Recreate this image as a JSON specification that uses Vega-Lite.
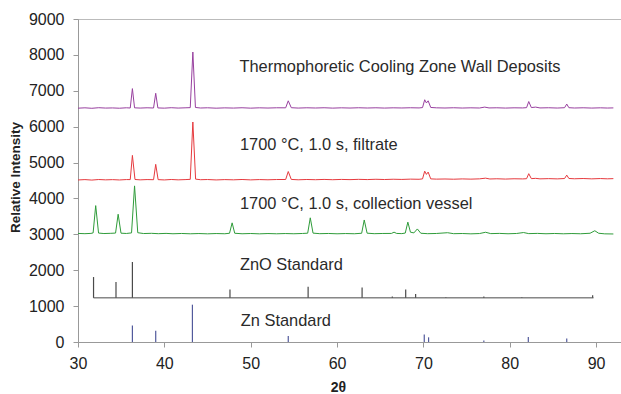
{
  "$schema": "https://vega.github.io/schema/vega-lite/v6.json",
  "width": 544,
  "height": 323,
  "autosize": "none",
  "padding": {"left": 78, "top": 19, "right": 0, "bottom": 52},
  "background": "white",
  "config": {
    "view": {"stroke": "#bbbbbb", "strokeWidth": 1},
    "font": "Liberation Sans",
    "axis": {
      "grid": false,
      "domainColor": "#999999",
      "tickColor": "#999999",
      "tickSize": 5,
      "labelFont": "Liberation Sans",
      "labelFontSize": 16,
      "labelColor": "#222222",
      "labelFlush": false,
      "labelOverlap": false,
      "titleFont": "Liberation Sans",
      "titleFontSize": 14,
      "titleFontWeight": "bold",
      "titleColor": "#222222"
    }
  },
  "datasets": {
    "patterns": [
      {"s":"wall","x":30,"y":6515},{"s":"wall","x":30.8,"y":6525},{"s":"wall","x":31.6,"y":6512},{"s":"wall","x":32.4,"y":6528},{"s":"wall","x":33.2,"y":6518},{"s":"wall","x":34.0,"y":6522},{"s":"wall","x":34.8,"y":6514},{"s":"wall","x":35.6,"y":6526},{"s":"wall","x":36.05,"y":6520},{"s":"wall","x":36.3,"y":7060},{"s":"wall","x":36.55,"y":6525},{"s":"wall","x":37.2,"y":6518},{"s":"wall","x":38.0,"y":6526},{"s":"wall","x":38.75,"y":6520},{"s":"wall","x":39.0,"y":6930},{"s":"wall","x":39.25,"y":6522},{"s":"wall","x":40.0,"y":6516},{"s":"wall","x":40.8,"y":6528},{"s":"wall","x":41.6,"y":6518},{"s":"wall","x":42.4,"y":6525},{"s":"wall","x":43.0,"y":6530},{"s":"wall","x":43.3,"y":8080},{"s":"wall","x":43.6,"y":6535},{"s":"wall","x":44.2,"y":6520},{"s":"wall","x":45.0,"y":6526},{"s":"wall","x":46.0,"y":6515},{"s":"wall","x":47.0,"y":6524},{"s":"wall","x":48.0,"y":6518},{"s":"wall","x":49.0,"y":6527},{"s":"wall","x":50.0,"y":6516},{"s":"wall","x":51.0,"y":6525},{"s":"wall","x":52.0,"y":6519},{"s":"wall","x":53.0,"y":6526},{"s":"wall","x":54.05,"y":6525},{"s":"wall","x":54.35,"y":6720},{"s":"wall","x":54.7,"y":6528},{"s":"wall","x":55.5,"y":6518},{"s":"wall","x":56.5,"y":6526},{"s":"wall","x":57.5,"y":6520},{"s":"wall","x":58.5,"y":6527},{"s":"wall","x":59.5,"y":6517},{"s":"wall","x":60.5,"y":6525},{"s":"wall","x":61.5,"y":6519},{"s":"wall","x":62.5,"y":6527},{"s":"wall","x":63.5,"y":6520},{"s":"wall","x":64.5,"y":6526},{"s":"wall","x":65.5,"y":6518},{"s":"wall","x":66.5,"y":6525},{"s":"wall","x":67.5,"y":6521},{"s":"wall","x":68.5,"y":6527},{"s":"wall","x":69.5,"y":6522},{"s":"wall","x":69.9,"y":6532},{"s":"wall","x":70.15,"y":6750},{"s":"wall","x":70.35,"y":6660},{"s":"wall","x":70.55,"y":6720},{"s":"wall","x":70.85,"y":6535},{"s":"wall","x":71.5,"y":6525},{"s":"wall","x":72.5,"y":6520},{"s":"wall","x":73.5,"y":6527},{"s":"wall","x":74.5,"y":6519},{"s":"wall","x":75.5,"y":6525},{"s":"wall","x":76.5,"y":6520},{"s":"wall","x":77.1,"y":6545},{"s":"wall","x":77.6,"y":6522},{"s":"wall","x":78.5,"y":6526},{"s":"wall","x":79.5,"y":6518},{"s":"wall","x":80.5,"y":6525},{"s":"wall","x":81.5,"y":6522},{"s":"wall","x":81.95,"y":6530},{"s":"wall","x":82.2,"y":6700},{"s":"wall","x":82.5,"y":6532},{"s":"wall","x":83.0,"y":6545},{"s":"wall","x":83.5,"y":6522},{"s":"wall","x":84.5,"y":6527},{"s":"wall","x":85.5,"y":6519},{"s":"wall","x":86.35,"y":6528},{"s":"wall","x":86.6,"y":6630},{"s":"wall","x":86.85,"y":6528},{"s":"wall","x":87.5,"y":6520},{"s":"wall","x":88.5,"y":6526},{"s":"wall","x":89.5,"y":6518},{"s":"wall","x":90.5,"y":6525},{"s":"wall","x":91.3,"y":6519},{"s":"wall","x":92.0,"y":6523},

      {"s":"filtrate","x":30,"y":4515},{"s":"filtrate","x":30.8,"y":4525},{"s":"filtrate","x":31.6,"y":4512},{"s":"filtrate","x":32.4,"y":4527},{"s":"filtrate","x":33.2,"y":4518},{"s":"filtrate","x":34.0,"y":4524},{"s":"filtrate","x":34.8,"y":4515},{"s":"filtrate","x":35.6,"y":4526},{"s":"filtrate","x":36.05,"y":4525},{"s":"filtrate","x":36.3,"y":5200},{"s":"filtrate","x":36.6,"y":4528},{"s":"filtrate","x":37.2,"y":4518},{"s":"filtrate","x":38.0,"y":4526},{"s":"filtrate","x":38.75,"y":4522},{"s":"filtrate","x":39.0,"y":4950},{"s":"filtrate","x":39.28,"y":4524},{"s":"filtrate","x":40.0,"y":4516},{"s":"filtrate","x":40.8,"y":4528},{"s":"filtrate","x":41.6,"y":4518},{"s":"filtrate","x":42.4,"y":4525},{"s":"filtrate","x":43.0,"y":4532},{"s":"filtrate","x":43.3,"y":6130},{"s":"filtrate","x":43.62,"y":4538},{"s":"filtrate","x":44.2,"y":4522},{"s":"filtrate","x":45.0,"y":4527},{"s":"filtrate","x":46.0,"y":4516},{"s":"filtrate","x":47.0,"y":4525},{"s":"filtrate","x":48.0,"y":4519},{"s":"filtrate","x":49.0,"y":4528},{"s":"filtrate","x":50.0,"y":4517},{"s":"filtrate","x":51.0,"y":4526},{"s":"filtrate","x":52.0,"y":4520},{"s":"filtrate","x":53.0,"y":4527},{"s":"filtrate","x":54.05,"y":4528},{"s":"filtrate","x":54.35,"y":4750},{"s":"filtrate","x":54.7,"y":4530},{"s":"filtrate","x":55.5,"y":4520},{"s":"filtrate","x":56.5,"y":4528},{"s":"filtrate","x":57.5,"y":4522},{"s":"filtrate","x":58.5,"y":4530},{"s":"filtrate","x":59.5,"y":4522},{"s":"filtrate","x":60.5,"y":4530},{"s":"filtrate","x":61.5,"y":4524},{"s":"filtrate","x":62.5,"y":4532},{"s":"filtrate","x":63.5,"y":4526},{"s":"filtrate","x":64.5,"y":4534},{"s":"filtrate","x":65.5,"y":4527},{"s":"filtrate","x":66.5,"y":4535},{"s":"filtrate","x":67.5,"y":4530},{"s":"filtrate","x":68.5,"y":4538},{"s":"filtrate","x":69.5,"y":4534},{"s":"filtrate","x":69.9,"y":4545},{"s":"filtrate","x":70.15,"y":4760},{"s":"filtrate","x":70.35,"y":4670},{"s":"filtrate","x":70.55,"y":4735},{"s":"filtrate","x":70.85,"y":4545},{"s":"filtrate","x":71.5,"y":4538},{"s":"filtrate","x":72.5,"y":4542},{"s":"filtrate","x":73.5,"y":4536},{"s":"filtrate","x":74.5,"y":4544},{"s":"filtrate","x":75.5,"y":4538},{"s":"filtrate","x":76.5,"y":4546},{"s":"filtrate","x":77.2,"y":4565},{"s":"filtrate","x":77.7,"y":4542},{"s":"filtrate","x":78.5,"y":4548},{"s":"filtrate","x":79.5,"y":4540},{"s":"filtrate","x":80.5,"y":4548},{"s":"filtrate","x":81.5,"y":4544},{"s":"filtrate","x":81.95,"y":4550},{"s":"filtrate","x":82.2,"y":4690},{"s":"filtrate","x":82.5,"y":4552},{"s":"filtrate","x":83.0,"y":4560},{"s":"filtrate","x":83.5,"y":4546},{"s":"filtrate","x":84.5,"y":4552},{"s":"filtrate","x":85.5,"y":4545},{"s":"filtrate","x":86.35,"y":4555},{"s":"filtrate","x":86.6,"y":4650},{"s":"filtrate","x":86.85,"y":4556},{"s":"filtrate","x":87.5,"y":4548},{"s":"filtrate","x":88.5,"y":4555},{"s":"filtrate","x":89.5,"y":4546},{"s":"filtrate","x":90.5,"y":4554},{"s":"filtrate","x":91.3,"y":4547},{"s":"filtrate","x":92.0,"y":4552},

      {"s":"vessel","x":30,"y":3025},{"s":"vessel","x":30.8,"y":3018},{"s":"vessel","x":31.5,"y":3026},{"s":"vessel","x":31.75,"y":3040},{"s":"vessel","x":32.05,"y":3800},{"s":"vessel","x":32.38,"y":3035},{"s":"vessel","x":33.0,"y":3022},{"s":"vessel","x":33.8,"y":3028},{"s":"vessel","x":34.35,"y":3035},{"s":"vessel","x":34.65,"y":3560},{"s":"vessel","x":34.98,"y":3032},{"s":"vessel","x":35.6,"y":3024},{"s":"vessel","x":36.2,"y":3040},{"s":"vessel","x":36.55,"y":4350},{"s":"vessel","x":36.92,"y":3045},{"s":"vessel","x":37.6,"y":3022},{"s":"vessel","x":38.5,"y":3028},{"s":"vessel","x":39.3,"y":3018},{"s":"vessel","x":40.2,"y":3026},{"s":"vessel","x":41.0,"y":3016},{"s":"vessel","x":42.0,"y":3024},{"s":"vessel","x":43.0,"y":3015},{"s":"vessel","x":44.0,"y":3022},{"s":"vessel","x":45.0,"y":3014},{"s":"vessel","x":46.0,"y":3022},{"s":"vessel","x":47.0,"y":3016},{"s":"vessel","x":47.55,"y":3030},{"s":"vessel","x":47.85,"y":3320},{"s":"vessel","x":48.15,"y":3030},{"s":"vessel","x":49.0,"y":3016},{"s":"vessel","x":50.0,"y":3023},{"s":"vessel","x":51.0,"y":3014},{"s":"vessel","x":52.0,"y":3022},{"s":"vessel","x":53.0,"y":3015},{"s":"vessel","x":54.0,"y":3022},{"s":"vessel","x":55.0,"y":3016},{"s":"vessel","x":56.0,"y":3024},{"s":"vessel","x":56.6,"y":3032},{"s":"vessel","x":56.9,"y":3460},{"s":"vessel","x":57.22,"y":3034},{"s":"vessel","x":58.0,"y":3018},{"s":"vessel","x":59.0,"y":3024},{"s":"vessel","x":60.0,"y":3015},{"s":"vessel","x":61.0,"y":3022},{"s":"vessel","x":62.0,"y":3016},{"s":"vessel","x":62.85,"y":3030},{"s":"vessel","x":63.15,"y":3400},{"s":"vessel","x":63.48,"y":3032},{"s":"vessel","x":64.3,"y":3018},{"s":"vessel","x":65.3,"y":3024},{"s":"vessel","x":66.3,"y":3025},{"s":"vessel","x":66.6,"y":3060},{"s":"vessel","x":66.9,"y":3025},{"s":"vessel","x":67.5,"y":3020},{"s":"vessel","x":67.9,"y":3035},{"s":"vessel","x":68.2,"y":3340},{"s":"vessel","x":68.5,"y":3060},{"s":"vessel","x":68.9,"y":3040},{"s":"vessel","x":69.3,"y":3150},{"s":"vessel","x":69.7,"y":3030},{"s":"vessel","x":70.5,"y":3018},{"s":"vessel","x":71.5,"y":3024},{"s":"vessel","x":72.8,"y":3045},{"s":"vessel","x":73.5,"y":3018},{"s":"vessel","x":74.5,"y":3023},{"s":"vessel","x":75.5,"y":3014},{"s":"vessel","x":76.5,"y":3022},{"s":"vessel","x":77.2,"y":3058},{"s":"vessel","x":77.8,"y":3020},{"s":"vessel","x":78.8,"y":3026},{"s":"vessel","x":79.8,"y":3016},{"s":"vessel","x":80.8,"y":3024},{"s":"vessel","x":81.6,"y":3050},{"s":"vessel","x":82.2,"y":3020},{"s":"vessel","x":83.2,"y":3026},{"s":"vessel","x":84.2,"y":3016},{"s":"vessel","x":85.2,"y":3024},{"s":"vessel","x":86.2,"y":3015},{"s":"vessel","x":87.2,"y":3022},{"s":"vessel","x":88.2,"y":3016},{"s":"vessel","x":89.3,"y":3030},{"s":"vessel","x":89.85,"y":3100},{"s":"vessel","x":90.3,"y":3030},{"s":"vessel","x":91.0,"y":3014},{"s":"vessel","x":92.0,"y":3010}
    ],
    "sticks": [
      {"s":"ZnO","x":31.8,"y":1230,"y2":1810},
      {"s":"ZnO","x":34.4,"y":1230,"y2":1670},
      {"s":"ZnO","x":36.3,"y":1230,"y2":2230},
      {"s":"ZnO","x":47.6,"y":1230,"y2":1460},
      {"s":"ZnO","x":56.65,"y":1230,"y2":1540},
      {"s":"ZnO","x":62.9,"y":1230,"y2":1520},
      {"s":"ZnO","x":66.4,"y":1230,"y2":1270},
      {"s":"ZnO","x":67.95,"y":1230,"y2":1460},
      {"s":"ZnO","x":69.1,"y":1230,"y2":1340},
      {"s":"ZnO","x":72.6,"y":1230,"y2":1250},
      {"s":"ZnO","x":77.0,"y":1230,"y2":1270},
      {"s":"ZnO","x":81.4,"y":1230,"y2":1250},
      {"s":"ZnO","x":89.6,"y":1230,"y2":1300},
      {"s":"Zn","x":36.3,"y":0,"y2":460},
      {"s":"Zn","x":39.0,"y":0,"y2":310},
      {"s":"Zn","x":43.25,"y":0,"y2":1040},
      {"s":"Zn","x":54.35,"y":0,"y2":170},
      {"s":"Zn","x":70.1,"y":0,"y2":210},
      {"s":"Zn","x":70.6,"y":0,"y2":130},
      {"s":"Zn","x":77.0,"y":0,"y2":40},
      {"s":"Zn","x":82.15,"y":0,"y2":140},
      {"s":"Zn","x":86.6,"y":0,"y2":100}
    ],
    "baseline": [
      {"s":"ZnO","x":31.8,"x2":89.7,"y":1230}
    ],
    "labels": [
      {"x":48.7,"y":7520,"label":"Thermophoretic Cooling Zone Wall Deposits"},
      {"x":48.75,"y":5355,"label":"1700 °C, 1.0 s, filtrate"},
      {"x":48.75,"y":3715,"label":"1700 °C, 1.0 s, collection vessel"},
      {"x":48.75,"y":2020,"label":"ZnO Standard"},
      {"x":48.85,"y":435,"label":"Zn Standard"}
    ]
  },
  "encoding": {
    "x": {"field": "x", "type": "quantitative", "scale": {"domain": [30, 93], "nice": false, "zero": false}, "title": "2θ",
          "axis": {"values": [30, 40, 50, 60, 70, 80, 90], "labelOverlap": false, "labelFlush": false, "labelPadding": 8, "titleX": 260, "titleY": 45, "titleAlign": "center", "titleBaseline": "middle"}},
    "y": {"field": "y", "type": "quantitative", "scale": {"domain": [0, 9000], "nice": false}, "title": "Relative Intensity",
          "axis": {"values": [0, 1000, 2000, 3000, 4000, 5000, 6000, 7000, 8000, 9000], "labelOverlap": false, "labelFlush": false, "format": "d", "labelPadding": 9, "titleX": -63, "titleY": 158, "titleAlign": "center", "titleBaseline": "middle", "titleFontSize": 13.5}}
  },
  "layer": [
    {
      "data": {"name": "baseline"},
      "mark": {"type": "rule", "strokeWidth": 1},
      "encoding": {
        "x2": {"field": "x2"},
        "color": {"field": "s", "type": "nominal", "legend": null,
                  "scale": {"domain": ["wall", "filtrate", "vessel", "ZnO", "Zn"], "range": ["#98409f", "#e63a3e", "#2f9c3a", "#4a4a4a", "#525a9c"]}}
      }
    },
    {
      "data": {"name": "sticks"},
      "mark": {"type": "rule", "strokeWidth": 1.2},
      "encoding": {
        "y2": {"field": "y2"},
        "color": {"field": "s", "type": "nominal", "legend": null}
      }
    },
    {
      "data": {"name": "patterns"},
      "mark": {"type": "line", "strokeWidth": 1},
      "encoding": {
        "color": {"field": "s", "type": "nominal", "legend": null}
      }
    },
    {
      "data": {"name": "labels"},
      "mark": {"type": "text", "align": "left", "baseline": "alphabetic", "font": "Liberation Sans", "fontSize": 16.4, "color": "#2a2a2a"},
      "encoding": {
        "text": {"field": "label"}
      }
    }
  ]
}
